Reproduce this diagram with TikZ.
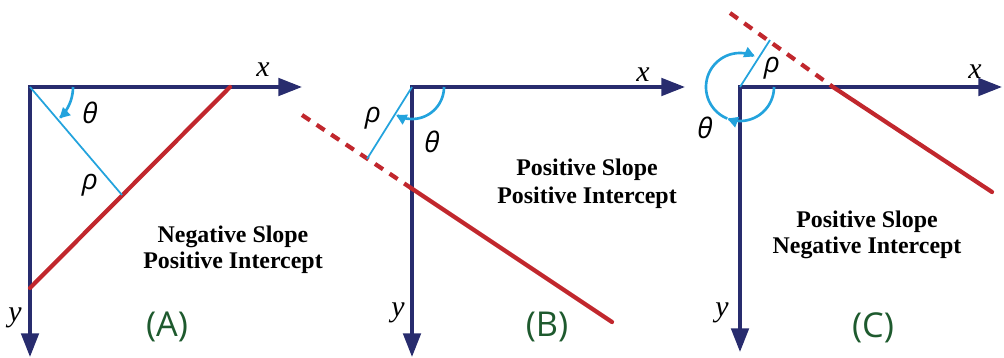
\documentclass[tikz,border=0pt]{standalone}
\usepackage{fontspec}
\setmainfont{Liberation Serif}
\newfontfamily\osans{Open Sans}
\usetikzlibrary{arrows.meta}
\definecolor{navy}{HTML}{282C6E}
\definecolor{lred}{HTML}{C1272D}
\definecolor{lblue}{HTML}{23A3DD}
\definecolor{lgreen}{HTML}{1E5A2E}
\begin{document}
\begin{tikzpicture}[x=0.02cm,y=-0.02cm,
 axis/.style={draw=navy, line width=1.9pt, line join=miter, {Triangle[length=13.5pt,width=10pt]}-{Triangle[length=13.5pt,width=10pt]}},
 lineseg/.style={draw=lred, line width=2.4pt, line cap=round},
 dashseg/.style={draw=lred, line width=2.4pt, dash pattern=on 5.5pt off 4.5pt},
 rhoseg/.style={draw=lblue, line width=1pt},
 anglearc/.style={draw=lblue, line width=1.5pt, -{Triangle[length=6pt,width=6pt]}},
 axlabel/.style={font=\fontsize{17}{17}\selectfont\itshape, inner sep=0pt},
 greek/.style={font=\fontsize{16}{16}\selectfont\osans\itshape, inner sep=0pt},
 caption/.style={font=\fontsize{13.6}{14.8}\selectfont\bfseries, align=center, inner sep=0pt},
 tag/.style={font=\fontsize{19.5}{19.5}\selectfont\osans, text=lgreen, inner sep=0pt}]
\useasboundingbox (0,0) rectangle (1004,358);
% ---------- Panel A ----------
\coordinate (oA) at (30,87);
\coordinate (xA) at (302,87);
\coordinate (yA) at (30,357);
\coordinate (rA1) at (30,288);
\coordinate (rA2) at (230,87);
\coordinate (fA) at (122,195);
\draw[axis] (xA) -- (oA) -- (yA);
\draw[lineseg] (rA1) -- (rA2);
\draw[rhoseg] (oA) -- (fA);
\draw[anglearc] plot[domain=0:47,samples=30] ({30+43*cos(\x)},{87+43*sin(\x)});
\node[axlabel] (xlA) at (263,70) {x};
\node[axlabel] (ylA) at (15,318) {y};
\node[greek] (thA) at (90,113) {θ};
\node[greek] (rhA) at (90,185) {ρ};
\node[caption] (capA) at (233,250) {Negative Slope\\Positive Intercept};
\node[tag] (tagA) at (167,327) {(A)};
% ---------- Panel B ----------
\coordinate (oB) at (412,87);
\coordinate (xB) at (685,87);
\coordinate (yB) at (412,357);
\coordinate (rB0) at (302,115);
\coordinate (rB1) at (411,188);
\coordinate (rB2) at (612,322);
\coordinate (fB) at (367,159);
\draw[axis] (xB) -- (oB) -- (yB);
\draw[dashseg] (rB0) -- (rB1);
\draw[lineseg] (rB1) -- (rB2);
\draw[rhoseg] (oB) -- (fB);
\draw[anglearc] plot[domain=0:120,samples=40] ({412+32*cos(\x)},{87+32*sin(\x)});
\node[axlabel] (xlB) at (643,75) {x};
\node[axlabel] (ylB) at (398,313) {y};
\node[greek] (thB) at (432,142) {θ};
\node[greek] (rhB) at (373,118) {ρ};
\node[caption, font=\fontsize{13.6}{15.9}\selectfont\bfseries] (capB) at (587,184) {Positive Slope\\Positive Intercept};
\node[tag] (tagB) at (547,327) {(B)};
% ---------- Panel C ----------
\coordinate (oC) at (740,87);
\coordinate (xC) at (1002,87);
\coordinate (yC) at (740,352);
\coordinate (rC0) at (730,13);
\coordinate (rC1) at (833,87);
\coordinate (rC2) at (992,192);
\coordinate (fC) at (770,40);
\draw[axis] (xC) -- (oC) -- (yC);
\draw[dashseg] (rC0) -- (rC1);
\draw[lineseg] (rC1) -- (rC2);
\draw[rhoseg] (oC) -- (fC);
\draw[anglearc] plot[domain=0:112,samples=40] ({740+34*cos(\x)},{87+34*sin(\x)});
\draw[anglearc] plot[domain=112:296,samples=60] ({740+34*cos(\x)},{87+34*sin(\x)});
\node[axlabel] (xlC) at (975,72) {x};
\node[axlabel] (ylC) at (722,313) {y};
\node[greek] (thC) at (705,128) {θ};
\node[greek] (rhC) at (772,68) {ρ};
\node[caption] (capC) at (867,235) {Positive Slope\\Negative Intercept};
\node[tag] (tagC) at (873,328) {(C)};
\end{tikzpicture}
\end{document}
